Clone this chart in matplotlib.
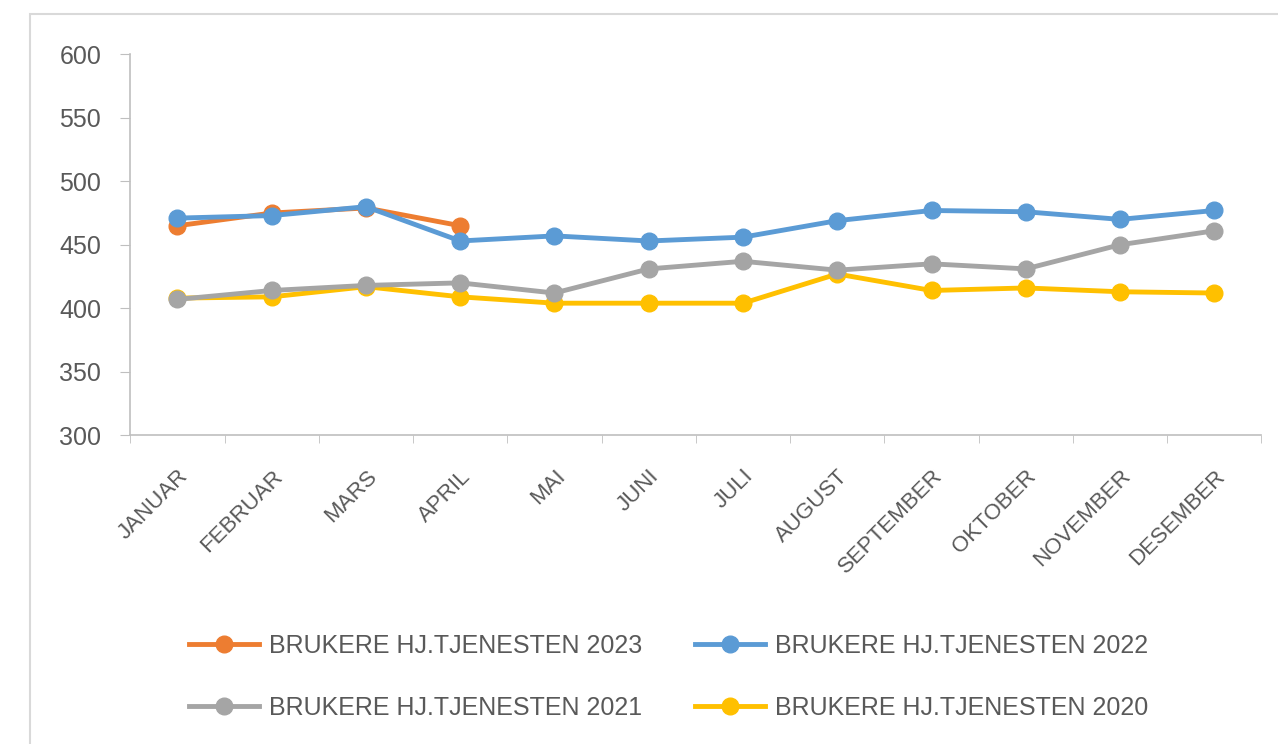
import matplotlib.pyplot as plt
from matplotlib.patches import Rectangle

plt.rcParams['font.family'] = ['Liberation Sans', 'DejaVu Sans']

months = ["JANUAR", "FEBRUAR", "MARS", "APRIL", "MAI", "JUNI", "JULI",
          "AUGUST", "SEPTEMBER", "OKTOBER", "NOVEMBER", "DESEMBER"]

y2023 = [465, 475, 479, 465]
y2022 = [471, 473, 480, 453, 457, 453, 456, 469, 477, 476, 470, 477]
y2021 = [407, 414, 418, 420, 412, 431, 437, 430, 435, 431, 450, 461]
y2020 = [408, 409, 417, 409, 404, 404, 404, 427, 414, 416, 413, 412]

labels = ["BRUKERE HJ.TJENESTEN 2023", "BRUKERE HJ.TJENESTEN 2022",
          "BRUKERE HJ.TJENESTEN 2021", "BRUKERE HJ.TJENESTEN 2020"]
colors = ["#ED7D31", "#5B9BD5", "#A5A5A5", "#FFC000"]

fig = plt.figure(figsize=(12.78, 7.44), dpi=100)
fig.patches.append(Rectangle((30 / 1278, -0.01), 1.0, 1 - 14 / 744 + 0.01,
                             transform=fig.transFigure, fill=False,
                             edgecolor="#d9d9d9", linewidth=1.5))
ax = fig.add_axes([0.102, 0.415, 0.885, 0.512])

x = list(range(len(months)))
lines = {}
# draw order: 2020, 2021, 2023, 2022 (blue on top of orange)
for data, lab, col in [(y2020, labels[3], colors[3]), (y2021, labels[2], colors[2]),
                       (y2023, labels[0], colors[0]), (y2022, labels[1], colors[1])]:
    lines[lab], = ax.plot(x[:len(data)], data, color=col, linewidth=3.5,
                          marker="o", markersize=12, label=lab)

ax.set_xlim(-0.5, 11.5)
ax.set_ylim(300, 600)
ax.set_yticks(range(300, 601, 50))
ax.set_xticks(x)
ax.set_xticklabels(months, rotation=45, ha="right", rotation_mode="anchor")
ax.set_xticks([i - 0.5 for i in range(13)], minor=True)
ax.tick_params(axis="x", which="major", length=0, pad=22, labelsize=16, labelcolor="#595959")
ax.tick_params(axis="x", which="minor", length=6, color="#bfbfbf", direction="out")
ax.tick_params(axis="y", length=7, color="#bfbfbf", labelsize=18, labelcolor="#595959", pad=14)
for s in ["top", "right"]:
    ax.spines[s].set_visible(False)
for s in ["left", "bottom"]:
    ax.spines[s].set_color("#bfbfbf")
    ax.spines[s].set_linewidth(1.2)

order = [labels[0], labels[2], labels[1], labels[3]]
fig.legend([lines[l] for l in order], order, loc="upper center", ncol=2,
           bbox_to_anchor=(0.523, 0.178), frameon=False, fontsize=18,
           labelcolor="#595959", handlelength=2.8, columnspacing=2.1,
           labelspacing=1.5, handletextpad=0.4)

fig.savefig("out.png", dpi=100)
